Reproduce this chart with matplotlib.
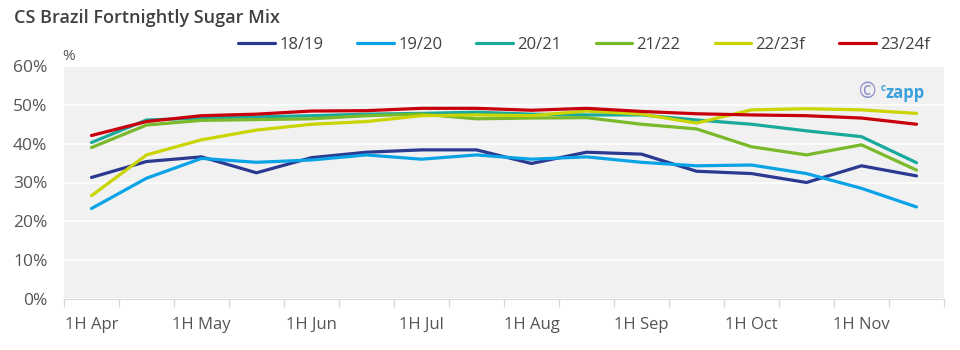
import matplotlib
matplotlib.use('Agg')
import matplotlib.pyplot as plt
import numpy as np

# fortnights, 1H Apr .. 2H Nov
periods = ['1H Apr', '2H Apr', '1H May', '2H May', '1H Jun', '2H Jun', '1H Jul', '2H Jul',
           '1H Aug', '2H Aug', '1H Sep', '2H Sep', '1H Oct', '2H Oct', '1H Nov', '2H Nov']
seasons = ['18/19', '19/20', '20/21', '21/22', '22/23f', '23/24f']

mix_1819 = [31.3, 35.4, 36.6, 32.5, 36.4, 37.8, 38.4, 38.4, 34.9, 37.8, 37.3, 32.9, 32.3, 30.0, 34.3, 31.7]
mix_1920 = [23.3, 31.1, 36.2, 35.2, 35.8, 37.1, 36.0, 37.1, 36.0, 36.6, 35.2, 34.3, 34.5, 32.3, 28.5, 23.7]
mix_2021 = [40.3, 46.1, 46.6, 46.9, 47.2, 47.6, 47.8, 48.1, 47.6, 47.4, 47.4, 46.1, 45.0, 43.3, 41.8, 35.1]
mix_2122 = [39.0, 44.8, 46.0, 46.2, 46.4, 47.2, 47.6, 46.4, 46.6, 46.7, 45.0, 43.8, 39.2, 37.1, 39.7, 33.2]
mix_2223 = [26.6, 37.1, 41.0, 43.5, 45.0, 45.7, 47.2, 47.4, 47.2, 48.4, 47.6, 45.3, 48.7, 49.0, 48.7, 47.8]
mix_2324 = [42.1, 45.7, 47.2, 47.6, 48.4, 48.5, 49.1, 49.1, 48.6, 49.1, 48.3, 47.7, 47.4, 47.2, 46.6, 45.0]

series = [mix_1819, mix_1920, mix_2021, mix_2122, mix_2223, mix_2324]
colors = ['#2b3990', '#0aa3e6', '#19a99d', '#7ab929', '#c9d400', '#c8000b']

plt.rcParams['font.family'] = ['Open Sans', 'DejaVu Sans']
text_col = '#555555'

fig = plt.figure(figsize=(9.6, 3.5), dpi=100)
ax = fig.add_axes([64 / 960, 1 - 299 / 350, 880 / 960, 233 / 350])
ax.set_facecolor('#f1f1f1')

x = np.arange(len(periods))
for name, vals, c in zip(seasons, series, colors):
    ax.plot(x, vals, color=c, lw=2.3, label=name, solid_capstyle='round', solid_joinstyle='round')

ax.set_xlim(-0.5, len(periods) - 0.5)
ax.set_ylim(0, 60)
ax.set_yticks(range(0, 61, 10))
ax.set_yticklabels([f'{v}%' for v in range(0, 61, 10)])
ax.grid(True, axis='y', color='white', lw=1.2)
ax.set_axisbelow(True)

# tick marks at fortnight boundaries, labels on every other fortnight
ax.set_xticks(np.arange(-0.5, len(periods), 1.0))
ax.set_xticklabels([])
ax.set_xticks(x[::2], minor=True)
ax.set_xticklabels(periods[::2], minor=True)
ax.tick_params(axis='x', which='major', length=6, color='#d9d9d9', width=1)
ax.tick_params(axis='x', which='minor', length=0, pad=13, labelsize=12, labelcolor=text_col)
ax.tick_params(axis='y', length=0, pad=12, labelsize=12.5, labelcolor=text_col)

for s in ['top', 'right', 'left']:
    ax.spines[s].set_visible(False)
ax.spines['bottom'].set_color('#d9d9d9')

fig.text(14 / 960, 1 - 18 / 350, 'CS Brazil Fortnightly Sugar Mix', fontsize=13,
         fontweight='semibold', color='#404040', va='center', ha='left')
fig.text(62 / 960, 1 - 56 / 350, '%', fontsize=11, color=text_col, va='center', ha='left')

fig.legend(loc='center right', bbox_to_anchor=(930 / 960, 1 - 45 / 350), ncol=6, frameon=False,
           fontsize=12, handlelength=2.2, handletextpad=0.25, columnspacing=2.05,
           labelcolor='#404040', borderpad=0, borderaxespad=0)

# watermark
ax.text(0.903, 0.885, '\u00a9', transform=ax.transAxes, fontsize=15, color='#8c8fc9',
        ha='left', va='center')
ax.text(0.928, 0.905, 'c', transform=ax.transAxes, fontsize=7, color='#3a9fdc',
        fontweight='bold', ha='left', va='center')
ax.text(0.934, 0.885, 'zapp', transform=ax.transAxes, fontsize=12, color='#3a9fdc',
        fontweight='bold', ha='left', va='center')

fig.savefig('out.png', dpi=100)
